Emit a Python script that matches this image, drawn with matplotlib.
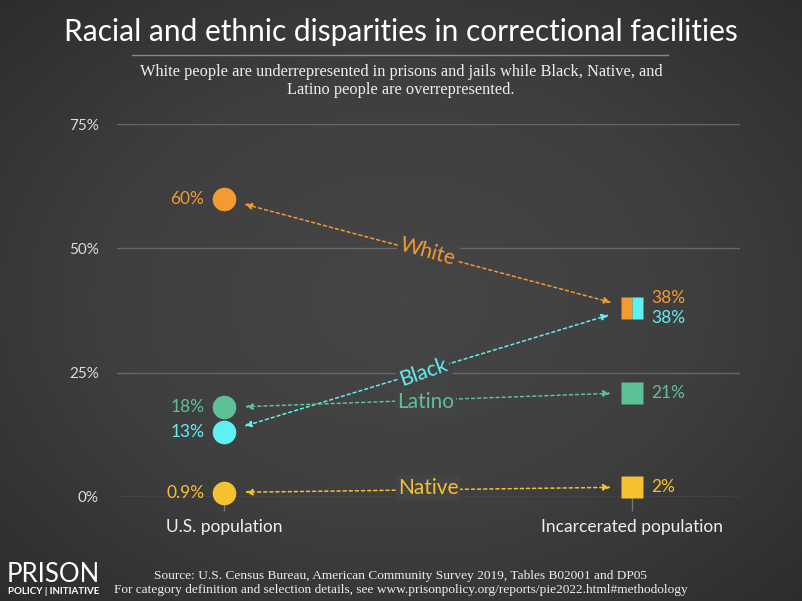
import numpy as np
import matplotlib
matplotlib.use("Agg")
import matplotlib.pyplot as plt

# data
groups = ["White", "Black", "Latino", "Native"]
us_pop = [60, 13, 18, 0.9]
incarcerated = [38, 38, 21, 2]
us_labels = ["60%", "13%", "18%", "0.9%"]
inc_labels = ["38%", "38%", "21%", "2%"]
colors = ["#f39a32", "#5ff0f2", "#5cc196", "#f6c030"]
y_ticks = [0, 25, 50, 75]
y_tick_labels = ["0%", "25%", "50%", "75%"]
x_labels = ["U.S. population", "Incarcerated population"]

BG = "#3f3f3f"
SANS = ["Lato", "DejaVu Sans"]
SERIF = ["Liberation Serif", "DejaVu Serif"]

fig = plt.figure(figsize=(8.02, 6.01), dpi=100)

# vignette background
bg = fig.add_axes([0, 0, 1, 1])
yy, xx = np.mgrid[-1:1:300j, -1:1:400j]
r = np.sqrt(xx ** 2 + yy ** 2)
bg.imshow(r, cmap=matplotlib.colors.LinearSegmentedColormap.from_list(
    "v", ["#464646", "#3f3f3f", "#2c2c2c"]), vmin=0, vmax=1.45,
    aspect="auto", extent=[0, 1, 0, 1])
bg.set_xlim(0, 1)
bg.set_ylim(0, 1)
bg.axis("off")

ax = fig.add_axes([117 / 802, 104 / 601, 623 / 802, 373 / 601])
ax.set_facecolor("none")
ax.set_xlim(-0.262, 1.265)
ax.set_ylim(0, 75)
for s in ax.spines.values():
    s.set_visible(False)
for t in y_ticks:
    ax.axhline(t, color="#676767", lw=1.0, zorder=1)
ax.set_yticks(y_ticks)
ax.set_yticklabels(y_tick_labels, family=SANS, fontsize=11, color="#dddddd")
ax.tick_params(axis="y", length=0, pad=13)
ax.set_xticks([0, 1])
ax.set_xticklabels(x_labels, family=SANS, fontsize=12.5, color="#f0f0f0")
ax.tick_params(axis="x", length=10, color="#777777", width=1, pad=6)

# arrows between points (White and Black meet at the same spot)
shrink_right = [15, 17, 15, 15]
for i, g in enumerate(groups):
    ax.annotate("", xy=(0, us_pop[i]), xytext=(1, incarcerated[i]),
                arrowprops=dict(arrowstyle="<|-|>,head_length=0.45,head_width=0.18",
                                color=colors[i], lw=1.1, linestyle=(0, (2, 2)),
                                shrinkA=shrink_right[i], shrinkB=15), zorder=2)

# group labels on the lines
label_pos = [(0.5, 49.3, -15.5), (0.49, 25.1, 19), (0.495, 19.1, 0), (0.5, 1.9, 0)]
for i, g in enumerate(groups):
    x, y, rot = label_pos[i]
    ax.text(x, y, g, color=colors[i], fontsize=15, family=SANS, rotation=rot,
            ha="center", va="center", zorder=4, rotation_mode="anchor",
            bbox=dict(facecolor="#444444", edgecolor="none", pad=1.5))

# markers
for i in range(len(groups)):
    ax.plot(0, us_pop[i], "o", ms=17, color=colors[i], mec="none",
            clip_on=False, zorder=5)
    ax.annotate(us_labels[i], (0, us_pop[i]), xytext=(-14, 0),
                textcoords="offset points", ha="right", va="center",
                color=colors[i], fontsize=12.5, family=SANS)

# incarcerated: White/Black share a split square
ax.plot(1, incarcerated[0], "s", ms=16, fillstyle="left",
        markerfacecolor=colors[0], markerfacecoloralt=colors[1],
        mec="none", zorder=5, clip_on=False)
for i in [2, 3]:
    ax.plot(1, incarcerated[i], "s", ms=16, color=colors[i], mec="none",
            clip_on=False, zorder=5)
offsets = [7, -7, 0, 0]
for i in range(len(groups)):
    ax.annotate(inc_labels[i], (1, incarcerated[i]), xytext=(14, offsets[i]),
                textcoords="offset points", ha="left", va="center",
                color=colors[i], fontsize=12.5, family=SANS)

# titles
fig.text(0.5, 1 - 32 / 601, "Racial and ethnic disparities in correctional facilities",
         ha="center", va="center", color="white", fontsize=21.5, family=SANS)
fig.add_artist(plt.Line2D([132 / 802, 668 / 802], [1 - 55 / 601] * 2,
                          color="#8a8a8a", lw=1.0))
fig.text(0.5, 1 - 81 / 601,
         "White people are underrepresented in prisons and jails while Black, Native, and\n"
         "Latino people are overrepresented.",
         ha="center", va="center", color="#eeeeee", fontsize=11.8, family=SERIF,
         linespacing=1.1)

# footer
fig.text(7 / 802, 1 - 574 / 601, "PRISON", ha="left", va="center", color="white",
         fontsize=18.5, family=SANS)
fig.text(8 / 802, 1 - 591 / 601, "POLICY | INITIATIVE", ha="left", va="center",
         color="white", fontsize=7, family=SANS, weight="bold")
fig.text(401 / 802, 1 - 583 / 601,
         "Source: U.S. Census Bureau, American Community Survey 2019, Tables B02001 and DP05\n"
         "For category definition and selection details, see www.prisonpolicy.org/reports/pie2022.html#methodology",
         ha="center", va="center", color="#eeeeee", fontsize=9.6, family=SERIF,
         linespacing=1.15)

fig.savefig("out.png", dpi=100, facecolor=BG)
